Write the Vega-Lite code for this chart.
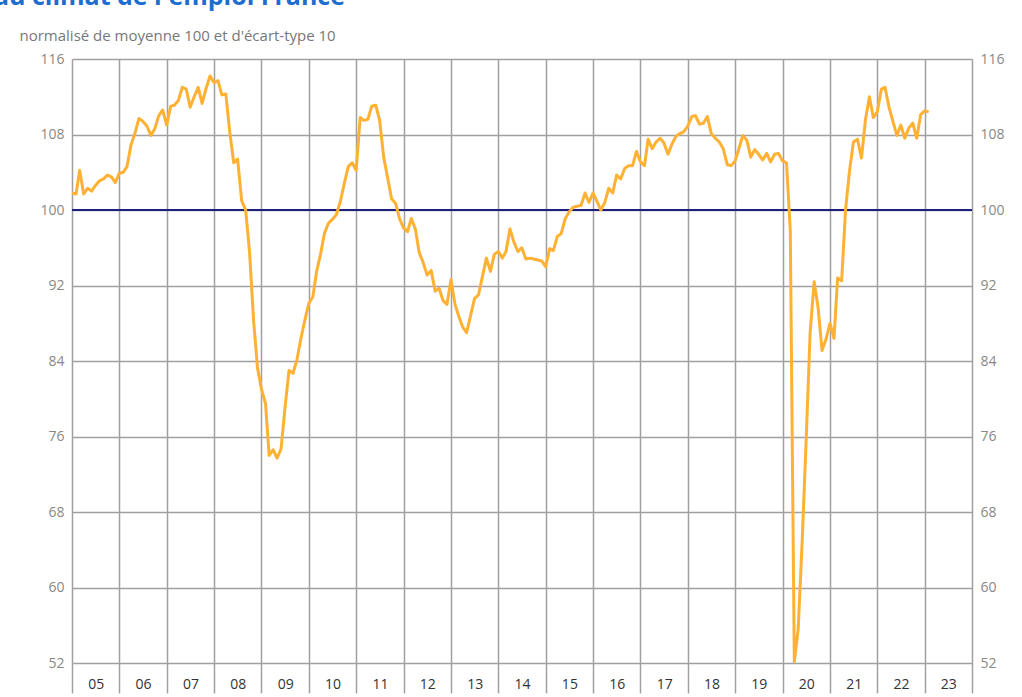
{
"$schema": "https://vega.github.io/schema/vega-lite/v6.json",
"width": 900, "height": 604,
"autosize": "none",
"padding": {"left": 72, "top": 59, "right": 50, "bottom": 34},
"background": "white",
"title": {"text": "Indicateur du climat de l'emploi France", "anchor": "end", "frame": "group", "dx": -627, "offset": -2, "font": "Open Sans", "fontSize": 25, "fontWeight": "bold", "color": "#1c6dd0", "baseline": "alphabetic"},
"config": {"view": {"stroke": null}, "font": "Open Sans"},
"data": {"values": [
{"d":"2005-01","v":101.8},{"d":"2005-02","v":101.7},{"d":"2005-03","v":104.2},{"d":"2005-04","v":101.7},{"d":"2005-05","v":102.3},{"d":"2005-06","v":102.0},{"d":"2005-07","v":102.6},{"d":"2005-08","v":103.1},{"d":"2005-09","v":103.3},{"d":"2005-10","v":103.7},{"d":"2005-11","v":103.5},{"d":"2005-12","v":102.9},
{"d":"2006-01","v":103.9},{"d":"2006-02","v":104.0},{"d":"2006-03","v":104.6},{"d":"2006-04","v":106.9},{"d":"2006-05","v":108.1},{"d":"2006-06","v":109.7},{"d":"2006-07","v":109.4},{"d":"2006-08","v":108.9},{"d":"2006-09","v":107.9},{"d":"2006-10","v":108.6},{"d":"2006-11","v":110.0},{"d":"2006-12","v":110.6},
{"d":"2007-01","v":109.0},{"d":"2007-02","v":111.0},{"d":"2007-03","v":111.1},{"d":"2007-04","v":111.6},{"d":"2007-05","v":113.0},{"d":"2007-06","v":112.8},{"d":"2007-07","v":110.9},{"d":"2007-08","v":112.0},{"d":"2007-09","v":113.0},{"d":"2007-10","v":111.3},{"d":"2007-11","v":112.9},{"d":"2007-12","v":114.2},
{"d":"2008-01","v":113.5},{"d":"2008-02","v":113.7},{"d":"2008-03","v":112.2},{"d":"2008-04","v":112.3},{"d":"2008-05","v":108.3},{"d":"2008-06","v":105.0},{"d":"2008-07","v":105.4},{"d":"2008-08","v":101.0},{"d":"2008-09","v":100.0},{"d":"2008-10","v":95.5},{"d":"2008-11","v":88.3},{"d":"2008-12","v":83.3},
{"d":"2009-01","v":81.0},{"d":"2009-02","v":79.5},{"d":"2009-03","v":74.0},{"d":"2009-04","v":74.6},{"d":"2009-05","v":73.7},{"d":"2009-06","v":74.7},{"d":"2009-07","v":79.0},{"d":"2009-08","v":83.0},{"d":"2009-09","v":82.7},{"d":"2009-10","v":84.1},{"d":"2009-11","v":86.4},{"d":"2009-12","v":88.3},
{"d":"2010-01","v":90.1},{"d":"2010-02","v":90.8},{"d":"2010-03","v":93.4},{"d":"2010-04","v":95.3},{"d":"2010-05","v":97.5},{"d":"2010-06","v":98.6},{"d":"2010-07","v":99.0},{"d":"2010-08","v":99.5},{"d":"2010-09","v":100.9},{"d":"2010-10","v":102.8},{"d":"2010-11","v":104.6},{"d":"2010-12","v":105.0},
{"d":"2011-01","v":104.2},{"d":"2011-02","v":109.8},{"d":"2011-03","v":109.5},{"d":"2011-04","v":109.6},{"d":"2011-05","v":111.0},{"d":"2011-06","v":111.1},{"d":"2011-07","v":109.5},{"d":"2011-08","v":105.6},{"d":"2011-09","v":103.4},{"d":"2011-10","v":101.2},{"d":"2011-11","v":100.7},{"d":"2011-12","v":99.1},
{"d":"2012-01","v":98.1},{"d":"2012-02","v":97.7},{"d":"2012-03","v":99.1},{"d":"2012-04","v":98.0},{"d":"2012-05","v":95.5},{"d":"2012-06","v":94.4},{"d":"2012-07","v":93.1},{"d":"2012-08","v":93.6},{"d":"2012-09","v":91.4},{"d":"2012-10","v":91.7},{"d":"2012-11","v":90.4},{"d":"2012-12","v":90.0},
{"d":"2013-01","v":92.6},{"d":"2013-02","v":90.0},{"d":"2013-03","v":88.8},{"d":"2013-04","v":87.6},{"d":"2013-05","v":87.0},{"d":"2013-06","v":88.8},{"d":"2013-07","v":90.6},{"d":"2013-08","v":91.0},{"d":"2013-09","v":93.0},{"d":"2013-10","v":94.9},{"d":"2013-11","v":93.5},{"d":"2013-12","v":95.3},
{"d":"2014-01","v":95.6},{"d":"2014-02","v":94.9},{"d":"2014-03","v":95.6},{"d":"2014-04","v":98.0},{"d":"2014-05","v":96.6},{"d":"2014-06","v":95.6},{"d":"2014-07","v":96.0},{"d":"2014-08","v":94.8},{"d":"2014-09","v":94.9},{"d":"2014-10","v":94.8},{"d":"2014-11","v":94.7},{"d":"2014-12","v":94.6},
{"d":"2015-01","v":94.0},{"d":"2015-02","v":95.9},{"d":"2015-03","v":95.7},{"d":"2015-04","v":97.2},{"d":"2015-05","v":97.5},{"d":"2015-06","v":99.1},{"d":"2015-07","v":99.8},{"d":"2015-08","v":100.3},{"d":"2015-09","v":100.4},{"d":"2015-10","v":100.5},{"d":"2015-11","v":101.8},{"d":"2015-12","v":100.8},
{"d":"2016-01","v":101.8},{"d":"2016-02","v":100.9},{"d":"2016-03","v":100.0},{"d":"2016-04","v":100.8},{"d":"2016-05","v":102.3},{"d":"2016-06","v":101.8},{"d":"2016-07","v":103.7},{"d":"2016-08","v":103.3},{"d":"2016-09","v":104.4},{"d":"2016-10","v":104.7},{"d":"2016-11","v":104.7},{"d":"2016-12","v":106.2},
{"d":"2017-01","v":105.1},{"d":"2017-02","v":104.7},{"d":"2017-03","v":107.5},{"d":"2017-04","v":106.5},{"d":"2017-05","v":107.2},{"d":"2017-06","v":107.6},{"d":"2017-07","v":107.1},{"d":"2017-08","v":105.9},{"d":"2017-09","v":107.0},{"d":"2017-10","v":107.8},{"d":"2017-11","v":108.1},{"d":"2017-12","v":108.3},
{"d":"2018-01","v":108.9},{"d":"2018-02","v":109.9},{"d":"2018-03","v":110.0},{"d":"2018-04","v":109.1},{"d":"2018-05","v":109.2},{"d":"2018-06","v":109.9},{"d":"2018-07","v":108.1},{"d":"2018-08","v":107.6},{"d":"2018-09","v":107.2},{"d":"2018-10","v":106.5},{"d":"2018-11","v":104.8},{"d":"2018-12","v":104.7},
{"d":"2019-01","v":105.2},{"d":"2019-02","v":106.6},{"d":"2019-03","v":107.9},{"d":"2019-04","v":107.4},{"d":"2019-05","v":105.6},{"d":"2019-06","v":106.4},{"d":"2019-07","v":105.9},{"d":"2019-08","v":105.3},{"d":"2019-09","v":106.0},{"d":"2019-10","v":105.1},{"d":"2019-11","v":105.9},{"d":"2019-12","v":106.0},
{"d":"2020-01","v":105.2},{"d":"2020-02","v":105.0},{"d":"2020-03","v":97.8},{"d":"2020-04","v":52.1},{"d":"2020-05","v":55.6},{"d":"2020-06","v":65.0},{"d":"2020-07","v":75.5},{"d":"2020-08","v":87.0},{"d":"2020-09","v":92.4},{"d":"2020-10","v":89.7},{"d":"2020-11","v":85.1},{"d":"2020-12","v":86.3},
{"d":"2021-01","v":88.0},{"d":"2021-02","v":86.4},{"d":"2021-03","v":92.8},{"d":"2021-04","v":92.5},{"d":"2021-05","v":100.0},{"d":"2021-06","v":104.2},{"d":"2021-07","v":107.2},{"d":"2021-08","v":107.5},{"d":"2021-09","v":105.5},{"d":"2021-10","v":109.5},{"d":"2021-11","v":112.0},{"d":"2021-12","v":109.8},
{"d":"2022-01","v":110.4},{"d":"2022-02","v":112.8},{"d":"2022-03","v":113.0},{"d":"2022-04","v":110.9},{"d":"2022-05","v":109.4},{"d":"2022-06","v":107.9},{"d":"2022-07","v":109.0},{"d":"2022-08","v":107.6},{"d":"2022-09","v":108.7},{"d":"2022-10","v":109.2},{"d":"2022-11","v":107.6},{"d":"2022-12","v":110.1},
{"d":"2023-01","v":110.5},{"d":"2023-02","v":110.4}
]},
"layer": [
{
"data": {"values": [{}]},
"mark": {"type": "rule", "color": "#1f1f80", "strokeWidth": 2},
"encoding": {
"y": {"datum": 100, "type": "quantitative",
"scale": {"domain": [52, 116], "nice": false, "zero": false},
"axis": {"orient": "right", "values": [52,60,68,76,84,92,100,108,116], "grid": false, "ticks": false, "domain": false, "labelPadding": 8, "labelFont": "Open Sans", "labelFontSize": 14, "labelColor": "#888888", "title": null}}
}
},
{
"mark": {"type": "line", "color": "#FFB133", "strokeWidth": 3, "strokeJoin": "round"},
"encoding": {
"x": {"field": "d", "type": "temporal",
"scale": {"type": "utc", "domain": [{"year": 2005, "month": 1, "date": 1, "utc": true}, {"year": 2024, "month": 1, "date": 1, "utc": true}]},
"axis": {"values": [{"year":2005,"utc":true},{"year":2006,"utc":true},{"year":2007,"utc":true},{"year":2008,"utc":true},{"year":2009,"utc":true},{"year":2010,"utc":true},{"year":2011,"utc":true},{"year":2012,"utc":true},{"year":2013,"utc":true},{"year":2014,"utc":true},{"year":2015,"utc":true},{"year":2016,"utc":true},{"year":2017,"utc":true},{"year":2018,"utc":true},{"year":2019,"utc":true},{"year":2020,"utc":true},{"year":2021,"utc":true},{"year":2022,"utc":true},{"year":2023,"utc":true},{"year":2024,"utc":true}],
"format": "%y", "labelExpr": "datum.label == '24' ? '' : datum.label",
"labelOffset": 23.7, "labelPadding": -16, "tickSize": 30, "tickColor": "#a0a0a0", "tickWidth": 1.5,
"grid": true, "gridColor": "#a0a0a0", "gridWidth": 1.5, "domain": false,
"labelFont": "Open Sans", "labelFontSize": 14, "labelColor": "#333333", "labelAngle": 0, "labelFlush": false, "labelOverlap": false, "labelBound": false, "title": null}},
"y": {"field": "v", "type": "quantitative",
"scale": {"domain": [52, 116], "nice": false, "zero": false},
"axis": {"orient": "left", "values": [52,60,68,76,84,92,100,108,116], "grid": true, "gridColor": "#a0a0a0", "gridWidth": 1.5, "ticks": false, "domain": false, "labelPadding": 8, "labelFont": "Open Sans", "labelFontSize": 14, "labelColor": "#888888",
"title": "normalisé de moyenne 100 et d'écart-type 10", "titleAngle": 0, "titleAlign": "left", "titleBaseline": "alphabetic", "titleX": -53, "titleY": -19, "titleFont": "Open Sans", "titleFontSize": 15, "titleFontWeight": "normal", "titleColor": "#777777"}}
}
}
],
"resolve": {"axis": {"y": "independent"}}
}
